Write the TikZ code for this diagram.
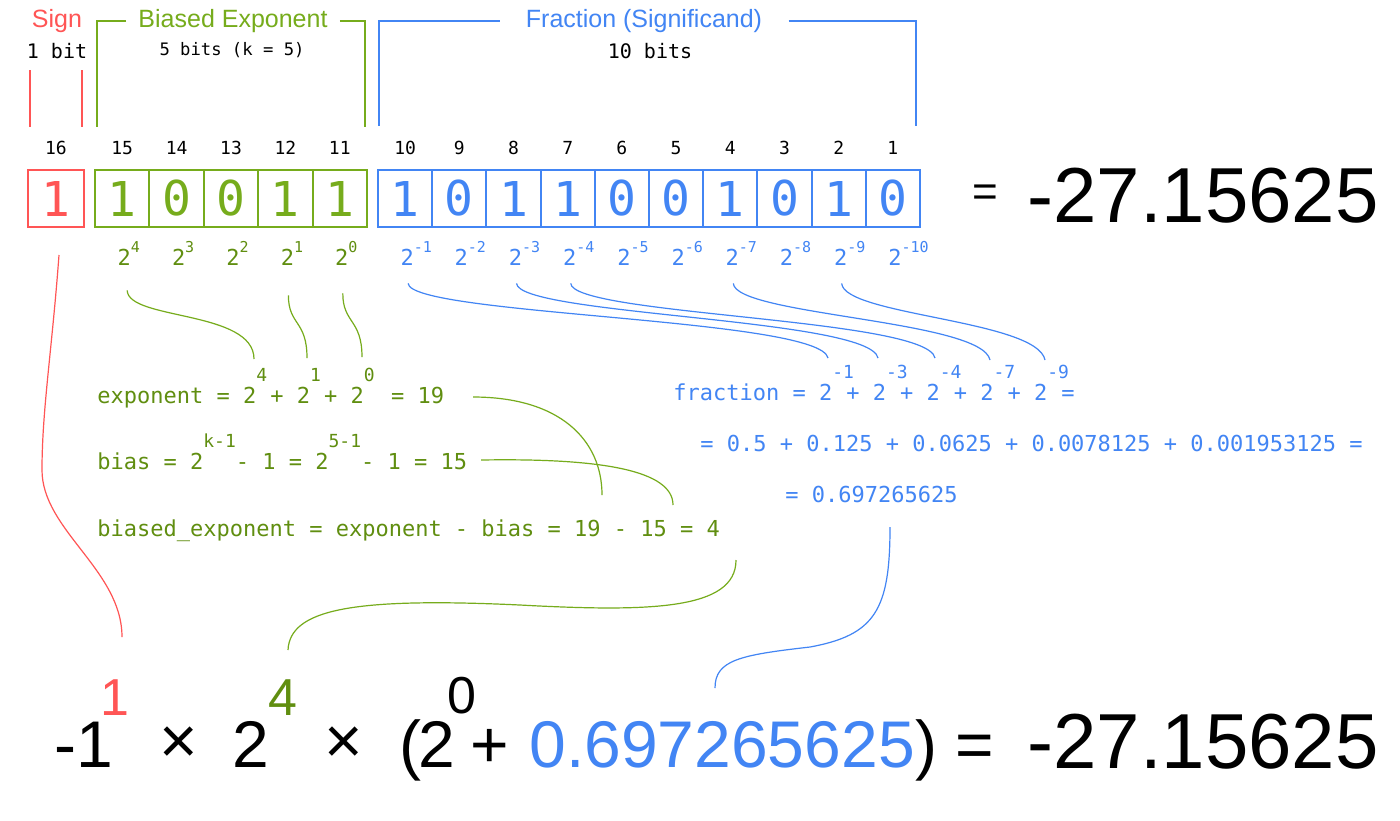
\documentclass[tikz,border=0pt]{standalone}
\usepackage{fontspec}
\setmainfont{Liberation Sans}
\setmonofont{DejaVu Sans Mono}
\usepackage{tikz}
\definecolor{signred}{RGB}{255,85,85}
\definecolor{expgreen}{RGB}{118,172,28}
\definecolor{formgreen}{RGB}{96,142,16}
\definecolor{fracblue}{RGB}{66,133,244}
\newcommand\powup[1]{\raisebox{6.5pt}{\fontsize{7.5}{7.5}\selectfont #1}}
\newcommand\hiup[1]{\makebox[7pt][l]{\raisebox{11pt}{\fontsize{9}{9}\selectfont #1}}}
\newcommand\hiupw[1]{\raisebox{11pt}{\fontsize{9}{9}\selectfont #1}}

\begin{document}
\begin{tikzpicture}[x=0.5pt,y=-0.5pt,
  bitbox/.style={draw,line width=1pt,minimum width=27.2pt,minimum height=28.5pt,inner sep=0pt,font=\ttfamily\fontsize{24}{24}\selectfont},
  bitnum/.style={inner sep=0pt,font=\ttfamily\fontsize{9}{9}\selectfont},
  title/.style={inner sep=0pt,font=\fontsize{12.5}{12.5}\selectfont},
  note/.style={inner sep=0pt,font=\ttfamily\fontsize{10}{10}\selectfont},
  pow/.style={anchor=base west,inner sep=0pt,font=\ttfamily\fontsize{11}{11}\selectfont},
  formula/.style={anchor=base west,inner sep=0pt,font=\ttfamily\fontsize{11}{11}\selectfont},
  big/.style={inner sep=0pt,font=\fontsize{33}{33}\selectfont},
  bigsup/.style={inner sep=0pt,anchor=base,font=\fontsize{26}{26}\selectfont},
  huge/.style={inner sep=0pt,anchor=base west,font=\fontsize{39}{39}\selectfont},
  bracket/.style={line width=0.75pt},
  link/.style={line width=0.6pt}]

\fill[white] (0,0) rectangle (1400,820);
\useasboundingbox (0,0) rectangle (1400,820);

\node[title,signred] (sgnt) at (57,21) {Sign};
\node[note] (sgnn) at (57,51) {1 bit};
\draw[bracket,signred] (30,70) -- (30,127) (82,70) -- (82,127);

\node[title,expgreen,inner xsep=6pt] (expt) at (233,21) {Biased Exponent};
\node[note,font=\ttfamily\fontsize{8.6}{8.6}\selectfont] (expn) at (232,50) {5 bits (k = 5)};
\draw[bracket,expgreen] (expt.west) -| (97,127);
\draw[bracket,expgreen] (expt.east) -| (365,127);

\node[title,fracblue,inner xsep=13pt] (frat) at (644,21) {Fraction (Significand)};
\node[note] (fran) at (650,51) {10 bits};
\draw[bracket,fracblue] (frat.west) -| (379,126);
\draw[bracket,fracblue] (frat.east) -| (916,126);

\node[bitbox,signred,minimum width=28pt] (s) at (56,198.5) {1};
\node[bitnum] (n16) at (56,148) {16};

\foreach \b [count=\i from 0] in {1,0,0,1,1} {
  \pgfmathtruncatemacro\n{15-\i}
  \pgfmathtruncatemacro\e{4-\i}
  \node[bitbox,expgreen] (e\i) at (122.2+54.4*\i,198.5) {\b};
  \node[bitnum] (n\n) at (122.2+54.4*\i,148) {\n};
  \node[pow,formgreen] (pe\i) at (117.2+54.4*\i,265) {2\powup{\e}};
}

\foreach \b [count=\i from 0] in {1,0,1,1,0,0,1,0,1,0} {
  \pgfmathtruncatemacro\n{10-\i}
  \pgfmathtruncatemacro\e{-1-\i}
  \node[bitbox,fracblue,minimum width=27.1pt] (f\i) at (405.1+54.2*\i,198.5) {\b};
  \node[bitnum] (n\n) at (405.1+54.2*\i,148) {\n};
  \node[pow,fracblue] (pf\i) at (400.1+54.2*\i,265) {2\powup{\e}};
}

\node[inner sep=0pt,font=\fontsize{22}{22}\selectfont] (eqt) at (985,196) {=};
\node[huge] (rest) at (1027,222) {-27.15625};

\node[formula,formgreen] (expf) at (97,403) {exponent = 2\hiup{4}+ 2\hiup{1}+ 2\hiup{0} = 19};
\node[formula,formgreen] (biasf) at (97,469) {bias = 2\hiupw{k-1}- 1 = 2\hiupw{5-1}- 1 = 15};
\node[formula,formgreen] (bexpf) at (97,536) {biased\_exponent = exponent - bias = 19 - 15 = 4};
\node[formula,fracblue] (fracf) at (673,400) {fraction = 2\hiup{-1}+ 2\hiup{-3}+ 2\hiup{-4}+ 2\hiup{-7}+ 2\hiup{-9}=};
\node[formula,fracblue] (fracs) at (700,451) {= 0.5 + 0.125 + 0.0625 + 0.0078125 + 0.001953125 =};
\node[formula,fracblue] (fracr) at (785,502) {= 0.697265625};

\node[big,anchor=base west] (m1) at (54,767) {-1};
\node[bigsup,signred] (sup1) at (115,715) {1};
\node[big] (t1) at (179,745) {×};
\node[big,anchor=base] (two1) at (251,767) {2};
\node[bigsup,formgreen] (sup4) at (283,715) {4};
\node[big] (t2) at (344,745) {×};
\node[big,anchor=base] (lp) at (410,767) {(};
\node[big,anchor=base] (two2) at (437,767) {2};
\node[bigsup] (sup0) at (462,713) {0};
\node[big,anchor=base] (plus) at (490,767) {+};
\node[big,fracblue,anchor=base west] (fracv) at (529,767) {0.697265625};
\node[big,anchor=base] (rp) at (926,767) {)};
\node[big,anchor=base] (eqb) at (975,767) {=};
\node[huge] (resb) at (1027,768) {-27.15625};

\coordinate (r0) at (59,255);
\coordinate (r1) at (42,470);
\coordinate (r2) at (122,637);
\draw[link,signred] (r0) .. controls (52,350) and (42,410) .. (r1) .. controls (42,530) and (122,570) .. (r2);

\coordinate (g4) at ([shift={(10,25)}]pe0.south west);
\coordinate (g1) at ([shift={(8,30)}]pe3.south west);
\coordinate (g0) at ([shift={(8,28)}]pe4.south west);
\coordinate (x4) at (254,359);
\coordinate (x1) at (307,358);
\coordinate (x0) at (362,357);
\draw[link,expgreen] (g4) .. controls +(1,30) and +(0,-49) .. (x4);
\draw[link,expgreen] (g1) .. controls +(0,30) and +(0,-38) .. (x1);
\draw[link,expgreen] (g0) .. controls +(0,30) and +(0,-38) .. (x0);

\foreach \p/\x/\y in {0/828/358,2/878/358,3/935/358,6/990/360,8/1045/360} {
  \coordinate (b\p) at ([shift={(8,18)}]pf\p.south west);
  \coordinate (y\p) at (\x,\y);
  \draw[link,fracblue] (b\p) .. controls +(2,32) and +(-8,-40) .. (y\p);
}

\coordinate (a19) at (473,397);
\coordinate (e19) at (602,495);
\coordinate (a15) at (481,460);
\coordinate (e15) at (673,505);
\draw[link,expgreen] (a19) .. controls (560,397) and (602,440) .. (e19);
\draw[link,expgreen] (a15) .. controls (600,458) and (673,470) .. (e15);

\coordinate (a4) at (736,560);
\coordinate (e4) at (288,650);
\draw[link,expgreen] (a4) .. controls (736,610) and (650,612) .. (520,605) .. controls (350,597) and (290,610) .. (e4);

\coordinate (af) at (890,527);
\coordinate (ef) at (715,688);
\draw[link,fracblue] (af) .. controls (890,610) and (875,635) .. (810,647) .. controls (740,655) and (715,660) .. (ef);
\end{tikzpicture}
\end{document}
